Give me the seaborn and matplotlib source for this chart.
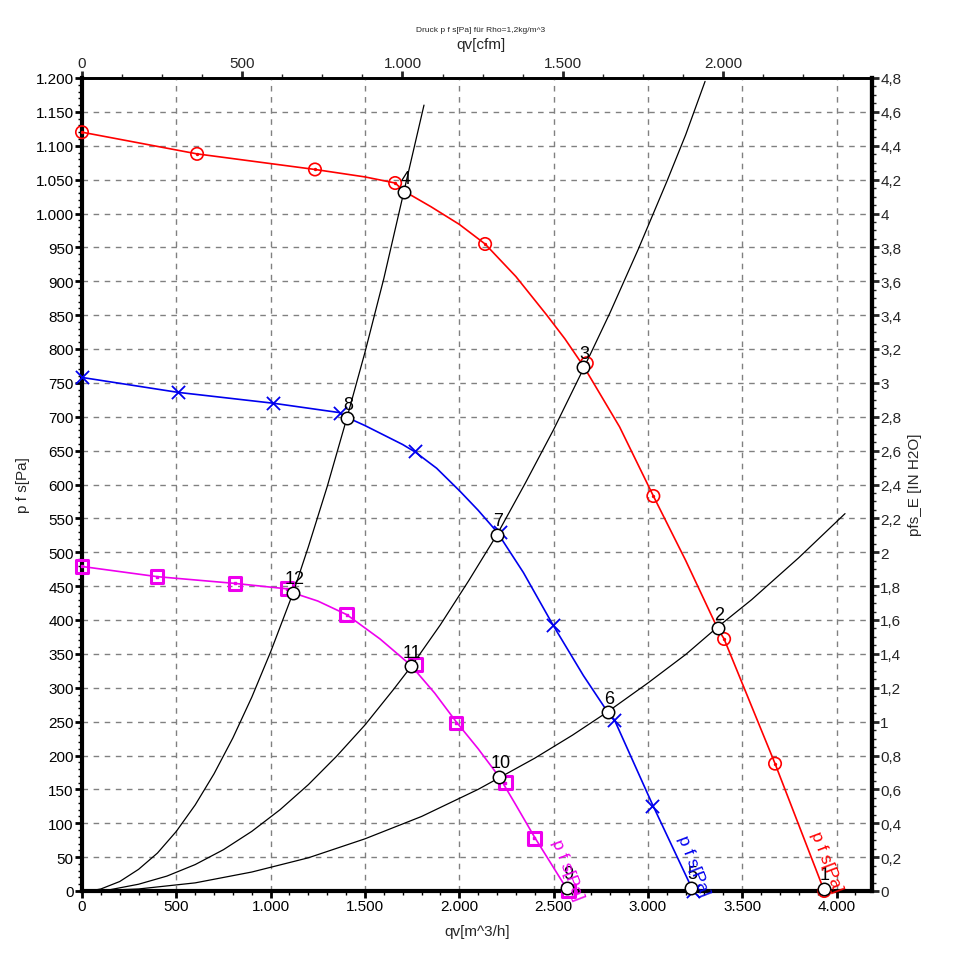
import numpy as np
import pandas as pd
import matplotlib
matplotlib.use("Agg")
import matplotlib.pyplot as plt
from matplotlib.ticker import MultipleLocator, FuncFormatter
import seaborn as sns

# fan curves (qv in m^3/h, p in Pa)
redQ = [0, 610, 1235, 1500, 1660, 1707, 1850, 2000, 2137, 2300, 2464, 2560, 2658, 2850, 3029, 3200, 3367, 3404, 3674, 3935]
redP = [1120, 1088, 1065, 1054, 1045, 1033, 1010, 984, 955, 907, 850, 815, 775, 685, 583, 488, 389, 372, 188, 0]
redMarkQ = [0, 610, 1235, 1660, 2137, 2676, 3029, 3404, 3674, 3935]
redMarkP = [1120, 1088, 1065, 1045, 955, 779, 583, 372, 188, 0]

blueQ = [0, 509, 1013, 1368, 1405, 1500, 1600, 1700, 1766, 1880, 2004, 2100, 2200, 2340, 2496, 2658, 2787, 2822, 3022, 3240]
blueP = [758, 736, 720, 706, 699, 687, 673, 659, 648, 624, 590, 562, 530, 470, 393, 318, 264, 253, 129, 0]
blueMarkQ = [0, 509, 1013, 1368, 1766, 2216, 2496, 2822, 3020, 3240]
blueMarkP = [758, 736, 720, 706, 650, 530, 393, 253, 126, 0]

pinkQ = [0, 398, 811, 1087, 1119, 1250, 1403, 1580, 1744, 1870, 1983, 2100, 2213, 2300, 2398, 2577]
pinkP = [479, 464, 454, 446, 440, 428, 408, 372, 333, 292, 250, 210, 168, 127, 80, 0]
pinkMarkQ = [0, 398, 811, 1087, 1403, 1766, 1983, 2243, 2398, 2577]
pinkMarkP = [479, 464, 454, 446, 408, 334, 248, 160, 78, 0]

# system curves
sysAQ = [40, 100, 200, 300, 400, 500, 600, 700, 800, 900, 1000, 1119, 1200, 1300, 1405, 1500, 1600, 1707, 1813]
sysAP = [0, 3, 14, 32, 56, 88, 127, 173, 226, 286, 353, 440, 508, 597, 699, 795, 904, 1033, 1160]
sysBQ = [40, 150, 300, 450, 600, 750, 900, 1050, 1200, 1350, 1500, 1650, 1744, 1900, 2050, 2200, 2350, 2500, 2662, 2800, 2950, 3100, 3200, 3303]
sysBP = [0, 2, 10, 22, 39, 61, 88, 120, 157, 199, 245, 297, 331, 393, 458, 526, 602, 681, 773, 854, 948, 1047, 1116, 1195]
sysCQ = [40, 300, 600, 900, 1200, 1500, 1800, 2100, 2211, 2400, 2600, 2784, 3000, 3200, 3367, 3550, 3800, 4045]
sysCP = [0, 3, 12, 28, 49, 77, 110, 150, 167, 196, 230, 264, 307, 349, 389, 430, 492, 557]

# operating points
opLabels = ["1", "2", "3", "4", "5", "6", "7", "8", "9", "10", "11", "12"]
opQ = [3931, 3370, 2658, 1707, 3229, 2787, 2200, 1403, 2570, 2213, 1744, 1119]
opP = [3, 388, 773, 1031, 5, 264, 526, 698, 5, 169, 332, 440]

sns.set_style("ticks")
plt.rcParams["font.family"] = ["Liberation Sans", "DejaVu Sans"]

RED = "#ff0000"
BLUE = "#0000ee"
PINK = "#ee00ee"

fig = plt.figure(figsize=(9.62, 9.70), dpi=100)
ax = fig.add_axes([82 / 962, 1 - 892 / 970, 790 / 962, 813 / 970])

for q, p in [(sysAQ, sysAP), (sysBQ, sysBP), (sysCQ, sysCP)]:
    sns.lineplot(x=q, y=p, ax=ax, color="black", lw=0.9, sort=False, estimator=None, zorder=3)

sns.lineplot(x=redQ, y=redP, ax=ax, color=RED, lw=1.2, sort=False, estimator=None, zorder=4)
sns.lineplot(x=blueQ, y=blueP, ax=ax, color=BLUE, lw=1.2, sort=False, estimator=None, zorder=4)
sns.lineplot(x=pinkQ, y=pinkP, ax=ax, color=PINK, lw=1.2, sort=False, estimator=None, zorder=4)

ax.scatter(redMarkQ, redMarkP, s=80, marker="o", facecolors="none", edgecolors=RED, linewidths=1.2, zorder=5, clip_on=False)
ax.scatter(redMarkQ, redMarkP, s=2, marker="o", color=RED, zorder=5, clip_on=False)
sns.scatterplot(x=blueMarkQ, y=blueMarkP, ax=ax, marker="x", s=90, color=BLUE, linewidth=1.3, zorder=5, clip_on=False)
ax.scatter(pinkMarkQ, pinkMarkP, s=85, marker="s", facecolors="none", edgecolors=PINK, linewidths=2.2, zorder=5, clip_on=False)
ax.scatter(pinkMarkQ, pinkMarkP, s=4, marker="s", color=PINK, zorder=5, clip_on=False)

ax.scatter(opQ, opP, s=80, marker="o", facecolors="white", edgecolors="black", linewidths=1.1, zorder=6, clip_on=False)
for lab, q, p in zip(opLabels, opQ, opP):
    ax.annotate(lab, (q, p), xytext=(1, 4), textcoords="offset points", ha="center", va="bottom",
                fontsize=13, color="black", zorder=7, annotation_clip=False)

# curve names along the lines
for q, p, c in [(3945, 44, RED), (3240, 38, BLUE), (2572, 32, PINK)]:
    ax.text(q, p, "p f s[Pa]", color=c, fontsize=12.5, rotation=-69, ha="center", va="center",
            rotation_mode="anchor", zorder=7, clip_on=False)

ax.set_xlim(0, 4188)
ax.set_ylim(0, 1200)

def deInt(v, pos):
    return f"{int(round(v)):,}".replace(",", ".")

def deDec(v, pos):
    s = f"{v:.1f}".rstrip("0").rstrip(".")
    return s.replace(".", ",")

ax.xaxis.set_major_locator(MultipleLocator(500))
ax.xaxis.set_minor_locator(MultipleLocator(100))
ax.yaxis.set_major_locator(MultipleLocator(50))
ax.yaxis.set_minor_locator(MultipleLocator(10))
ax.xaxis.set_major_formatter(FuncFormatter(deInt))
ax.yaxis.set_major_formatter(FuncFormatter(deInt))
ax.grid(True, which="major", color="#808080", linestyle=(0, (4, 4)), lw=1.0, zorder=0)
ax.set_axisbelow(True)

ax.tick_params(which="major", direction="out", length=5, width=2, labelsize=11, pad=1, colors="black")
ax.tick_params(which="minor", direction="out", length=3, width=1, colors="black")
for side in ["left", "bottom", "right"]:
    ax.spines[side].set_linewidth(3)
ax.spines["top"].set_linewidth(2)
for s in ax.spines.values():
    s.set_color("black")

ax.set_xlabel("qv[m^3/h]", fontsize=11)
ax.set_ylabel("p f s[Pa]", fontsize=11)
ax.xaxis.set_label_coords(0.5, -0.041)
ax.yaxis.set_label_coords(-0.066, 0.5)

top = ax.secondary_xaxis("top", functions=(lambda q: q / 1.699, lambda c: c * 1.699))
top.xaxis.set_major_locator(MultipleLocator(500))
top.xaxis.set_minor_locator(MultipleLocator(125))
top.xaxis.set_major_formatter(FuncFormatter(deInt))
top.tick_params(which="major", direction="out", length=5, width=2, labelsize=11, pad=1)
top.tick_params(which="minor", direction="out", length=3, width=1)
top.spines["top"].set_linewidth(2)

right = ax.secondary_yaxis("right", functions=(lambda p: p / 250, lambda v: v * 250))
right.yaxis.set_major_locator(MultipleLocator(0.2))
right.yaxis.set_minor_locator(MultipleLocator(0.05))
right.yaxis.set_major_formatter(FuncFormatter(deDec))
right.tick_params(which="major", direction="out", length=5, width=2, labelsize=11, pad=1)
right.tick_params(which="minor", direction="out", length=3, width=1)
right.spines["right"].set_linewidth(3)

fig.text(0.5, 1 - 45 / 970, "qv[cfm]", ha="center", va="center", fontsize=11)
fig.text(915 / 962, 1 - 485 / 970, "pfs_E [IN H2O]", ha="center", va="center", rotation=90, fontsize=11)
fig.text(0.5, 1 - 30 / 970, "Druck p f s[Pa] für Rho=1,2kg/m^3", ha="center", va="center", fontsize=6)

fig.savefig("out.png", dpi=100, facecolor="white")
